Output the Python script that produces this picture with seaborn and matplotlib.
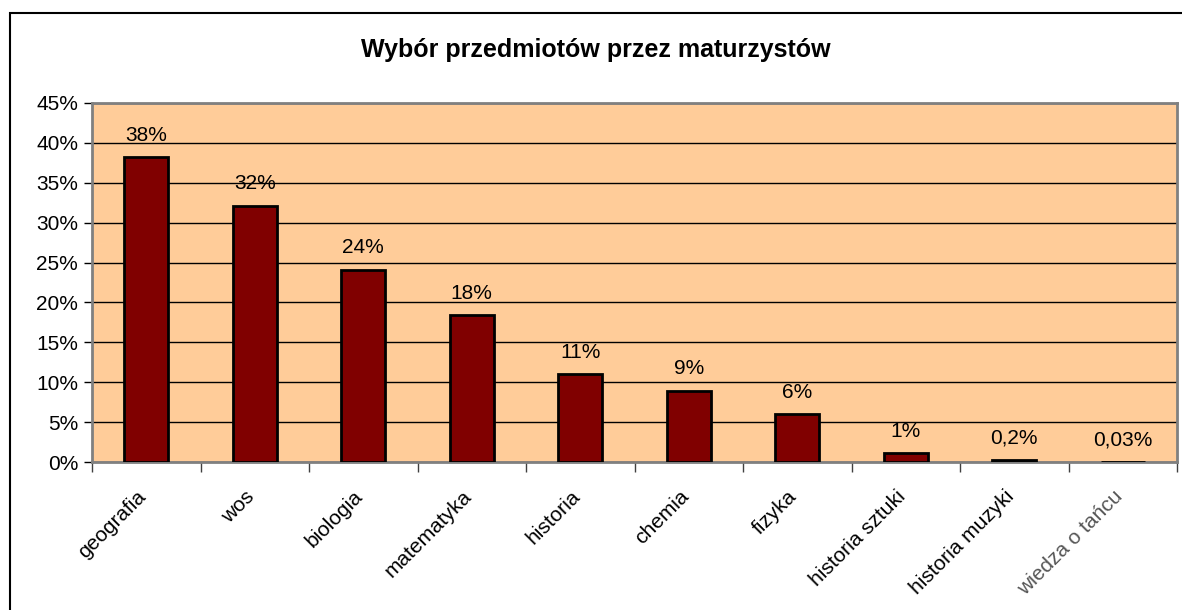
import matplotlib
matplotlib.use("Agg")
import matplotlib.pyplot as plt
import matplotlib.transforms as mtransforms
from matplotlib.patches import Rectangle
from matplotlib.ticker import PercentFormatter, FixedLocator
import numpy as np
import pandas as pd
import seaborn as sns

# dane
przedmioty = ["geografia", "wos", "biologia", "matematyka", "historia",
              "chemia", "fizyka", "historia sztuki", "historia muzyki",
              "wiedza o tańcu"]
procent = [38.2, 32.1, 24.1, 18.4, 11.0, 8.9, 6.0, 1.1, 0.2, 0.03]
etykiety = ["38%", "32%", "24%", "18%", "11%", "9%", "6%", "1%", "0,2%", "0,03%"]

df = pd.DataFrame({"przedmiot": przedmioty, "procent": procent})

sns.set_style("white")
plt.rcParams["font.family"] = ["Liberation Sans", "DejaVu Sans"]
plt.rcParams["text.color"] = "black"
plt.rcParams["xtick.color"] = "black"
plt.rcParams["ytick.color"] = "black"

fig = plt.figure(figsize=(11.82, 6.10), dpi=100)
ax = fig.add_axes([92 / 1182, 1 - 462 / 610, (1177 - 92) / 1182, (462 - 103) / 610])

sns.barplot(data=df, x="przedmiot", y="procent", color="#800000",
            edgecolor="black", linewidth=2, width=0.41, saturation=1, ax=ax, zorder=3)

ax.set_facecolor("#FFCC99")
ax.set_ylim(0, 45)
ax.set_xlim(-0.5, len(przedmioty) - 0.5)
ax.yaxis.set_major_locator(FixedLocator(np.arange(0, 46, 5)))
ax.yaxis.set_major_formatter(PercentFormatter(decimals=0))
ax.grid(axis="y", color="black", linewidth=1, zorder=0)
ax.set_axisbelow(True)
ax.set_xlabel("")
ax.set_ylabel("")

for sp in ax.spines.values():
    sp.set_color("#808080")
    sp.set_linewidth(2)

ax.tick_params(axis="y", which="major", direction="out", length=6, width=1,
               color="black", labelsize=15, pad=4, left=True)
ax.set_xticks(range(len(przedmioty)))
ax.set_xticklabels(przedmioty, rotation=45, ha="right", rotation_mode="anchor",
                   fontsize=15)
ax.tick_params(axis="x", which="major", length=0, pad=18)
ax.set_xticks(np.arange(-0.5, len(przedmioty), 1), minor=True)
ax.tick_params(axis="x", which="minor", direction="out", length=7, width=1,
               color="#404040", bottom=True)
przesun = mtransforms.ScaledTranslation(-10 / 100, 0, fig.dpi_scale_trans)
for lab in ax.get_xticklabels():
    lab.set_transform(lab.get_transform() + przesun)
ax.get_xticklabels()[-1].set_color("#555555")

for i, (v, t) in enumerate(zip(procent, etykiety)):
    ax.annotate(t, (i, v), xytext=(0, 9), textcoords="offset points",
                ha="center", va="bottom", fontsize=15)

fig.text(596 / 1182, 1 - 50 / 610, "Wybór przedmiotów przez maturzystów",
         ha="center", va="center", fontsize=18, fontweight="bold")

fig.patches.append(Rectangle((10 / 1182, -0.05), 1.1, 1 - 13 / 610 + 0.05,
                             transform=fig.transFigure, fill=False,
                             edgecolor="black", linewidth=1.5))

fig.savefig("out.png", dpi=100, facecolor="white")
